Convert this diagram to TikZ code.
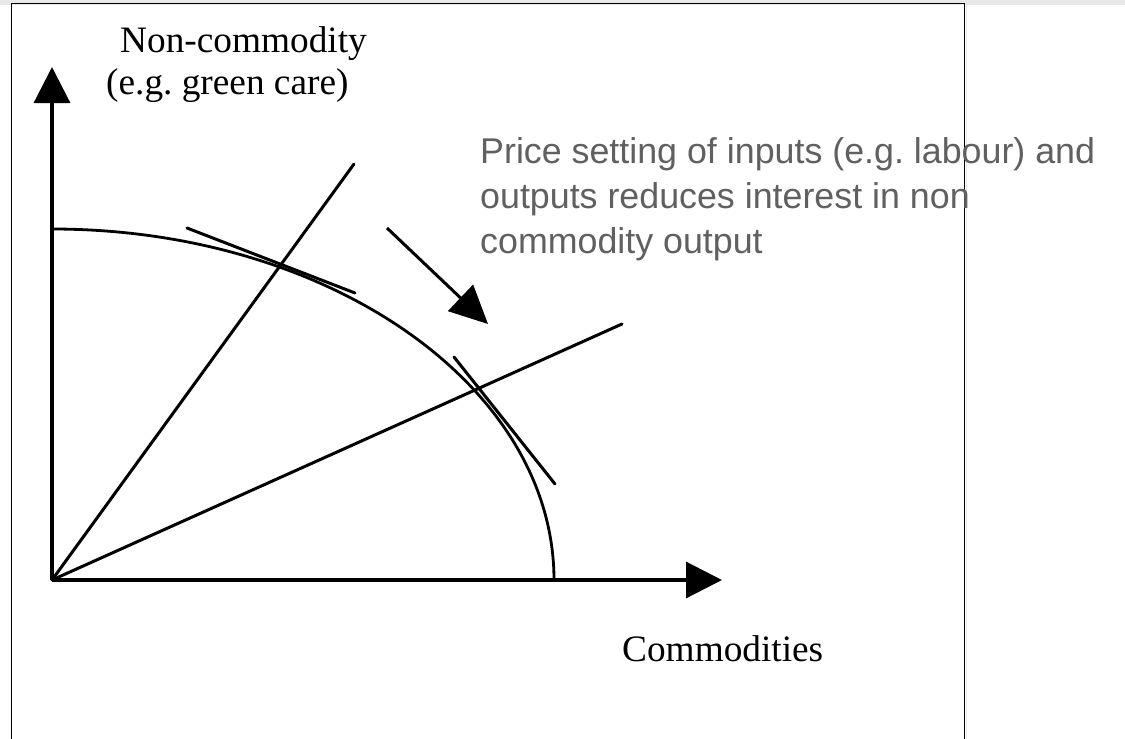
\documentclass[tikz,border=0pt]{standalone}
\usepackage{fontspec}
\setmainfont{Liberation Serif}
\newfontfamily\arialfont{Liberation Sans}
\usetikzlibrary{arrows.meta}
\definecolor{notegray}{RGB}{96,96,96}
\definecolor{stripgray}{RGB}{232,232,232}
\frenchspacing
\begin{document}
\begin{tikzpicture}[x=1pt,y=1pt,
  axisline/.style={line width=3.2pt, -{Triangle[length=36pt,width=36pt]}},
  thinline/.style={line width=3pt, line cap=round},
  curveline/.style={line width=2.8pt},
  serifnote/.style={inner sep=0pt, anchor=base west, font=\fontsize{37.3}{42}\selectfont},
  graynote/.style={inner sep=0pt, anchor=base west, text=notegray, font=\arialfont\fontsize{35.8}{45}\selectfont, align=left}]
\useasboundingbox (0,0) rectangle (1125,-739);
\fill[white] (0,0) rectangle (1125,-739);
% top strip and frame
\fill[stripgray] (0,0) rectangle (1125,-5);
\draw[line width=1pt, stripgray] (966.5,-5) -- (966.5,-739);
\draw[line width=1.5pt, black] (11.5,-745) -- (11.5,-3.5) -- (964.5,-3.5) -- (964.5,-745);
% coordinates
\coordinate (O) at (52,-580);
\coordinate (ytip) at (52,-67);
\coordinate (xtip) at (722,-580);
\coordinate (r1) at (354,-164);
\coordinate (r2) at (622,-324);
\coordinate (t1a) at (187,-228);
\coordinate (t1b) at (355,-293);
\coordinate (t2a) at (454,-357);
\coordinate (t2b) at (555,-484);
\coordinate (aS) at (387,-228);
\coordinate (aE) at (488,-324);
% frontier
\draw[curveline] (52,-229) arc[start angle=90, end angle=0, x radius=502pt, y radius=351pt];
% rays
\draw[thinline] (O) -- (r1);
\draw[thinline] (O) -- (r2);
% tangents
\draw[thinline] (t1a) -- (t1b);
\draw[thinline] (t2a) -- (t2b);
% axes
\draw[axisline] (O) -- (ytip);
\draw[axisline] (O) -- (xtip);
% shift arrow
\draw[line width=3pt, -{Triangle[length=38pt,width=36pt]}] (aS) -- (aE);
% labels
\node[serifnote] (ylab1) at (120,-52) {Non-commodity};
\node[serifnote] (ylab2) at (106,-94) {(e.g. green care)};
\node[serifnote] (xlab) at (622,-661) {Commodities};
\node[graynote] (note1) at (480,-163) {Price setting of inputs (e.g. labour) and};
\node[graynote] (note2) at (480,-208) {outputs reduces interest in non};
\node[graynote] (note3) at (480,-253) {commodity output};
\end{tikzpicture}
\end{document}
